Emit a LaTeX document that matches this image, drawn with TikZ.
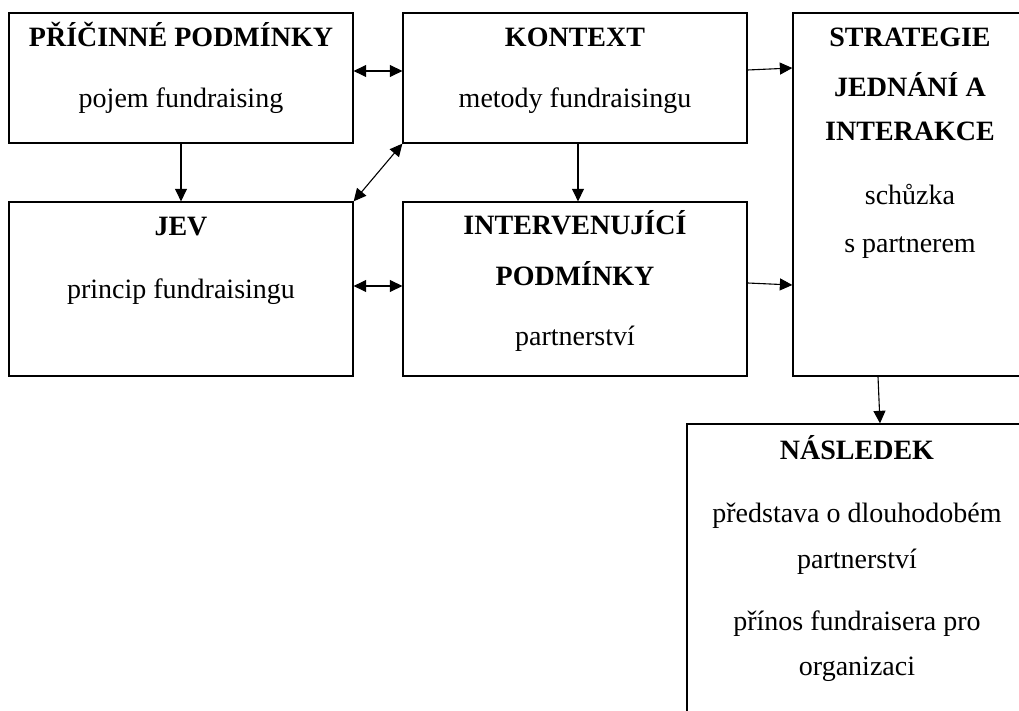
\documentclass[tikz,border=0pt]{standalone}
\usepackage{fontspec}
\setmainfont{Liberation Serif}
\usetikzlibrary{arrows.meta}
\begin{document}
\begin{tikzpicture}[x=1pt,y=-1pt,
  box/.style={draw, line width=1.3pt, inner sep=0pt},
  ttl/.style={anchor=base, inner sep=0pt, font=\fontsize{28}{33}\selectfont\bfseries},
  txt/.style={anchor=base, inner sep=0pt, font=\fontsize{28}{33}\selectfont},
  arr/.style={line width=1.1pt, -{Triangle[length=12.5pt,width=12pt]}},
  dbl/.style={line width=1.1pt, {Triangle[length=12.5pt,width=12pt]}-{Triangle[length=12.5pt,width=12pt]}}]
\useasboundingbox (0,0) rectangle (1019,711);
\clip (0,0) rectangle (1019,711);
\fill[white] (0,0) rectangle (1019,711);
% boxes
\node[box, minimum width=344pt, minimum height=130pt] (b1) at (181,78) {};
\node[box, minimum width=344pt, minimum height=130pt] (b2) at (575,78) {};
\node[box, minimum width=234pt, minimum height=363pt] (b3) at (910,194.5) {};
\node[box, minimum width=344pt, minimum height=174pt] (b4) at (181,289) {};
\node[box, minimum width=344pt, minimum height=174pt] (b5) at (575,289) {};
\node[box, minimum width=340pt, minimum height=320pt] (b6) at (857,584) {};
% texts
\node[ttl] (t1) at (181,47) {PŘÍČINNÉ PODMÍNKY};
\node[txt] (s1) at (181,108) {pojem fundraising};
\node[ttl] (t2) at (575,47) {KONTEXT};
\node[txt] (s2) at (575,108) {metody fundraisingu};
\node[ttl] (t3a) at (910,47) {STRATEGIE};
\node[ttl] (t3b) at (910,97) {JEDNÁNÍ A};
\node[ttl] (t3c) at (910,141) {INTERAKCE};
\node[txt] (s3a) at (910,205) {schůzka};
\node[txt] (s3b) at (910,253) {s partnerem};
\node[ttl] (t4) at (181,236) {JEV};
\node[txt] (s4) at (181,298) {princip fundraisingu};
\node[ttl] (t5a) at (575,235) {INTERVENUJÍCÍ};
\node[ttl] (t5b) at (575,285) {PODMÍNKY};
\node[txt] (s5) at (575,345) {partnerství};
\node[ttl] (t6) at (857,459) {NÁSLEDEK};
\node[txt] (s6a) at (857,522) {představa o dlouhodobém};
\node[txt] (s6b) at (857,568) {partnerství};
\node[txt] (s6c) at (857,630) {přínos fundraisera pro};
\node[txt] (s6d) at (857,675) {organizaci};
% connectors
\draw[dbl] ([yshift=7pt]b1.east) -- ([yshift=7pt]b2.west);
\draw[arr] (b1.south) -- (b4.north);
\draw[dbl] (b4.north east) -- (b2.south west);
\draw[arr] ([xshift=3pt]b2.south) -- ([xshift=3pt]b5.north);
\draw[arr] ([yshift=8pt]b2.east) -- ([yshift=126.5pt]b3.west);
\draw[dbl] ([yshift=3pt]b4.east) -- ([yshift=3pt]b5.west);
\draw[arr] ([yshift=6pt]b5.east) -- ([yshift=-90.5pt]b3.west);
\draw[arr] ([xshift=-32pt]b3.south) -- ([xshift=23pt]b6.north);
\end{tikzpicture}
\end{document}
